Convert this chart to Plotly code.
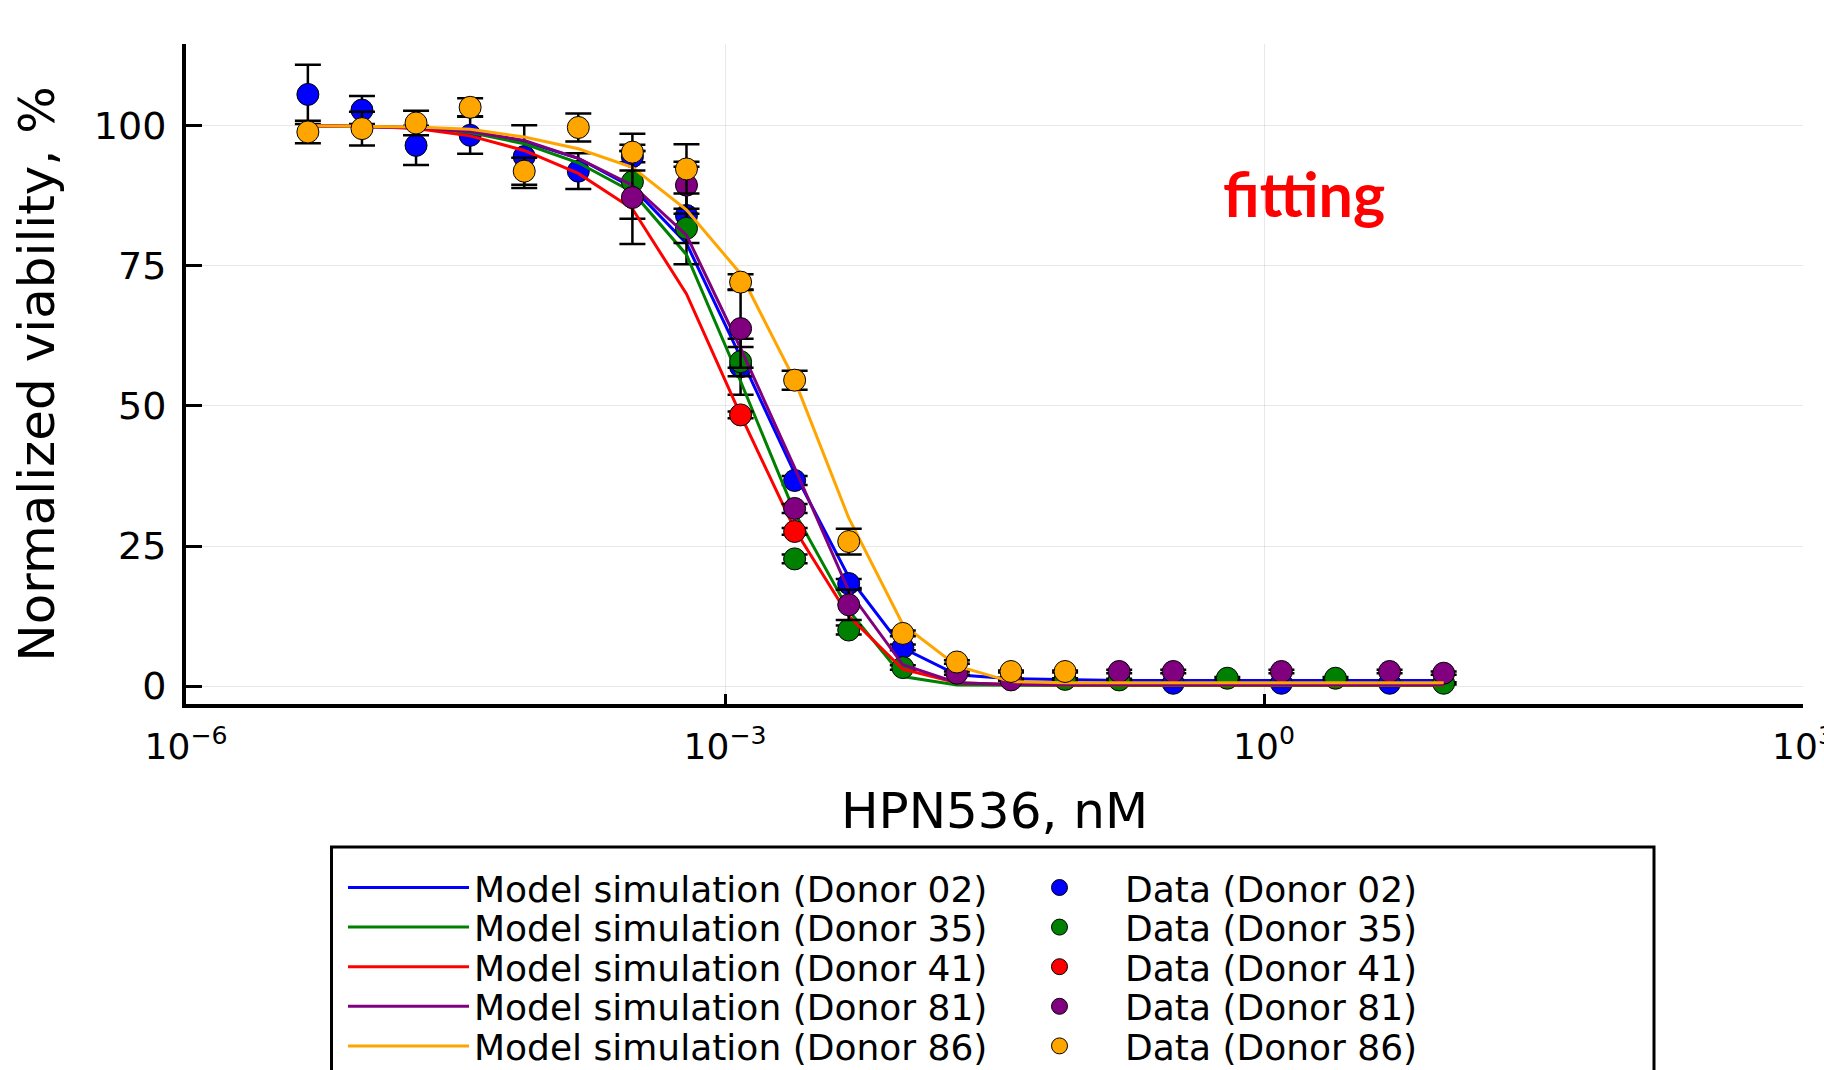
import plotly.graph_objects as go

# Concentrations (nM), 2-fold dilution series read from the x positions
conc = [4.768e-6, 9.537e-6, 1.907e-5, 3.815e-5, 7.629e-5, 1.526e-4, 3.052e-4,
        6.104e-4, 1.221e-3, 2.441e-3, 4.883e-3, 9.766e-3, 0.01953, 0.03906,
        0.07813, 0.1563, 0.3125, 0.625, 1.25, 2.5, 5.0, 10.0]

donors = ["02", "35", "41", "81", "86"]
colors = ["#0000ff", "#008000", "#ff0000", "#800080", "#ffa500"]

# Model simulation curves (% viability) at each concentration
model_02 = [100.0, 99.9, 99.7, 99.0, 97.2, 94.2, 89.0, 79.0, 58.7, 38.0, 19.5, 6.8,
            2.0, 1.3, 1.1, 1.0, 1.0, 1.0, 1.0, 1.0, 1.0, 1.0]
model_35 = [100.0, 99.9, 99.6, 98.8, 96.8, 93.4, 88.2, 77.0, 54.4, 31.0, 13.5, 1.7,
            0.2, 0.1, 0.1, 0.1, 0.1, 0.1, 0.1, 0.1, 0.1, 0.1]
model_41 = [100.0, 99.9, 99.5, 98.2, 95.6, 91.5, 85.2, 70.0, 48.4, 28.0, 12.5, 3.0,
            0.6, 0.3, 0.2, 0.2, 0.2, 0.2, 0.2, 0.2, 0.2, 0.2]
model_81 = [100.0, 99.9, 99.7, 99.0, 97.4, 94.2, 89.4, 80.5, 60.3, 39.0, 17.0, 3.8,
            0.6, 0.3, 0.3, 0.3, 0.3, 0.3, 0.3, 0.3, 0.3, 0.3]
model_86 = [100.0, 99.9, 99.8, 99.4, 98.0, 95.9, 92.6, 85.0, 73.6, 54.6, 30.0, 11.0,
            3.6, 0.8, 0.6, 0.6, 0.6, 0.6, 0.6, 0.6, 0.6, 0.6]

# Measured data (mean, error); None = no visible point
data_02 = [105.6, 102.8, 96.5, 98.3, 94.5, 91.9, 94.5, 84.0, 57.0, 36.7, 18.3, 6.9,
           None, None, None, None, 0.5, None, 0.5, None, 0.5, None]
err_02 = [5.3, 2.5, 3.5, 3.3, 5.6, 3.2, 1.0, 8.7, 5.0, 0.8, 0.8, 0.5,
          0, 0, 0, 0, 0.2, 0, 0.2, 0, 0.2, 0]
data_35 = [None, None, None, None, None, None, 90.0, 81.7, 57.9, 22.7, 10.0, 3.3,
           None, None, 1.2, 1.1, None, 1.4, None, 1.4, None, 0.5]
err_35 = [0, 0, 0, 0, 0, 0, 6.6, 2.6, 2.6, 0.8, 0.8, 0.4,
          0, 0, 0.2, 0.2, 0, 0.2, 0, 0.2, 0, 0.2]
data_41 = [None, None, None, None, None, None, None, None, 48.4, 27.6, None, None,
           None, None, None, None, None, None, None, None, None, None]
err_41 = [0, 0, 0, 0, 0, 0, 0, 0, 0.6, 0.6, 0, 0,
          0, 0, 0, 0, 0, 0, 0, 0, 0, 0]
data_81 = [None, None, None, None, None, None, 87.2, 89.4, 63.8, 31.7, 14.5, None,
           2.3, 1.1, None, 2.6, 2.6, None, 2.6, None, 2.6, 2.3]
err_81 = [0, 0, 0, 0, 0, 0, 8.3, 4.2, 7.0, 0.8, 2.7, 0,
          0.3, 0.2, 0, 0.3, 0.3, 0, 0.3, 0, 0.3, 0.3]
data_86 = [98.9, 99.5, 100.5, 103.3, 91.9, 99.7, 95.3, 92.3, 72.1, 54.6, 25.8, 9.4,
           4.3, 2.6, 2.6, None, None, None, None, None, None, None]
err_86 = [2.0, 3.0, 2.2, 1.6, 2.4, 2.5, 3.3, 4.4, 1.4, 1.7, 2.3, 0.5,
          0.3, 0.2, 0.2, 0, 0, 0, 0, 0, 0, 0]

models = [model_02, model_35, model_41, model_81, model_86]
datas = [data_02, data_35, data_41, data_81, data_86]
errs = [err_02, err_35, err_41, err_81, err_86]

xticks = [1e-6, 1e-3, 1, 1e3]
xticktext = ["10<sup>\u22126</sup>", "10<sup>\u22123</sup>", "10<sup>0</sup>", "10<sup>3</sup>"]
yticks = [0, 25, 50, 75, 100]

FONT = "DejaVu Sans"

fig = go.Figure()
legend_ids = ["legend", "legend2", "legend3", "legend4", "legend5"]
for i, d in enumerate(donors):
    fig.add_trace(go.Scatter(
        x=conc, y=models[i], mode="lines",
        line=dict(color=colors[i], width=3),
        name=f"Model simulation (Donor {d})", legend=legend_ids[i]))
    fig.add_trace(go.Scatter(
        x=conc, y=datas[i], mode="markers",
        marker=dict(color=colors[i], size=22, line=dict(color="black", width=1)),
        error_y=dict(type="data", array=errs[i], color="black", thickness=2.5, width=13),
        name=f"Data (Donor {d})", legend=legend_ids[i]))

W, H = 1824, 1070
ml, mr, mt, mb = 186, 21, 44, 366
pw, ph = W - ml - mr, H - mt - mb

def px_to_paper_x(px):
    return (px - ml) / pw

def px_to_paper_y(py):
    return (H - mb - py) / ph

row_centers = [887.6, 927.2, 966.8, 1006.4, 1046.0]
legend_layout = {}
for i, lid in enumerate(legend_ids):
    legend_layout[lid] = dict(
        orientation="h", x=px_to_paper_x(343), xanchor="left",
        y=px_to_paper_y(row_centers[i]), yanchor="middle",
        font=dict(family=FONT, size=36, color="black"),
        itemwidth=121, entrywidth=515, entrywidthmode="pixels",
        bgcolor="rgba(0,0,0,0)", borderwidth=0, tracegroupgap=0)

fig.update_layout(
    width=W, height=H,
    margin=dict(l=ml, r=mr, t=mt, b=mb, autoexpand=False),
    paper_bgcolor="white", plot_bgcolor="white",
    font=dict(family=FONT, color="black"),
    showlegend=True,
    **legend_layout,
    xaxis=dict(
        type="log", range=[-6, 3], tickvals=xticks, ticktext=xticktext,
        showline=True, linewidth=4, linecolor="black", mirror=False,
        ticks="inside", ticklen=10, tickwidth=3, tickcolor="black",
        tickfont=dict(family=FONT, size=36, color="black"),
        ticklabelstandoff=8, ticklabeloverflow="allow",
        showgrid=True, gridcolor="rgba(0,0,0,0.09)", gridwidth=1, zeroline=False,
        title=dict(text="HPN536, nM", font=dict(family=FONT, size=50, color="black"),
                   standoff=28),
        automargin=False),
    yaxis=dict(
        range=[-3.2, 114.6], tickvals=yticks,
        showline=True, linewidth=4, linecolor="black", mirror=False,
        ticks="inside", ticklen=16, tickwidth=3, tickcolor="black",
        tickfont=dict(family=FONT, size=38, color="black"),
        ticklabelstandoff=8,
        showgrid=True, gridcolor="rgba(0,0,0,0.09)", gridwidth=1, zeroline=False,
        title=dict(text="Normalized viability, %", font=dict(family=FONT, size=50, color="black"),
                   standoff=24),
        automargin=False),
    shapes=[dict(type="rect", xref="paper", yref="paper",
                 x0=px_to_paper_x(331.5), x1=px_to_paper_x(1654),
                 y0=px_to_paper_y(1080), y1=px_to_paper_y(847),
                 line=dict(color="black", width=3), fillcolor="rgba(0,0,0,0)", layer="above")],
    annotations=[dict(text="fitting", xref="x", yref="y", x=0.22, y=88.0,
                      showarrow=False,
                      font=dict(family="Lato", size=61, color="#ff0000", weight=700))],
)

fig.write_html("out.html")
